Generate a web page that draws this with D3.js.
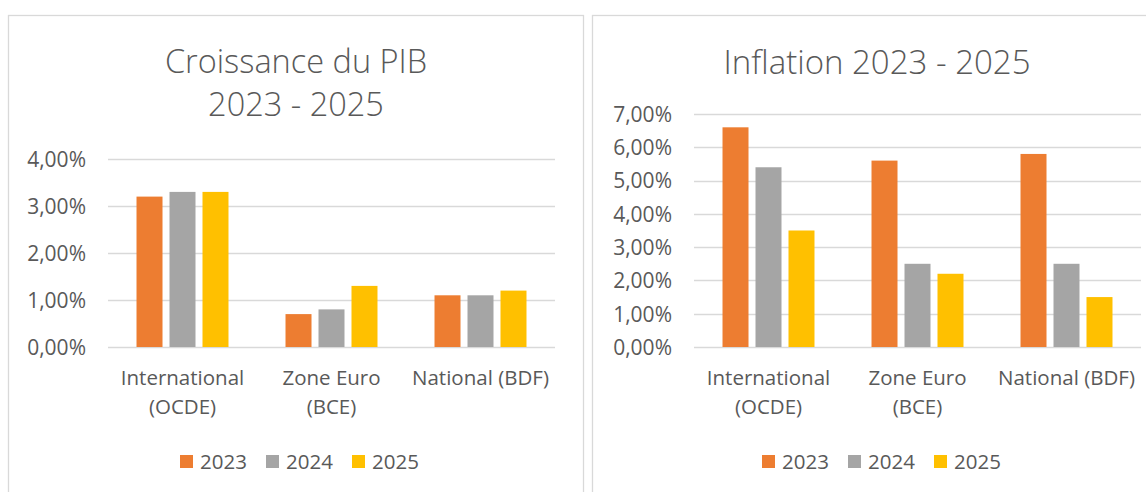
<!DOCTYPE html>
<html>
<head>
<meta charset="utf-8">
<script src="https://cdn.jsdelivr.net/npm/d3@7"></script>
<style>
  html, body { margin: 0; padding: 0; background: #fff; }
  svg { display: block; }
  text { font-family: "Open Sans", "Noto Sans", sans-serif; fill: #595959; }
</style>
</head>
<body>
<svg id="chart" width="1146" height="492"></svg>
<script>
// ---- data ----
const categories = ["International (OCDE)", "Zone Euro (BCE)", "National (BDF)"];
const categoryLines = [["International", "(OCDE)"], ["Zone Euro", "(BCE)"], ["National (BDF)"]];
const years = ["2023", "2024", "2025"];

const gdp2023 = [3.2, 0.7, 1.1];
const gdp2024 = [3.3, 0.8, 1.1];
const gdp2025 = [3.3, 1.3, 1.2];
const gdpTicks = [0, 1, 2, 3, 4];
const gdpTitle = ["Croissance du PIB", "2023 - 2025"];

const infl2023 = [6.6, 5.6, 5.8];
const infl2024 = [5.4, 2.5, 2.5];
const infl2025 = [3.5, 2.2, 1.5];
const inflTicks = [0, 1, 2, 3, 4, 5, 6, 7];
const inflTitle = ["Inflation 2023 - 2025"];

const colors = ["#ED7D31", "#A5A5A5", "#FFC000"];

// ---- drawing ----
const svg = d3.select("#chart");
const fmt = v => v.toFixed(2).replace(".", ",") + "%";

function drawChart(opts) {
  const g = svg.append("g");
  // frame
  g.append("rect")
    .attr("x", opts.frame[0] + 0.5).attr("y", 15.5)
    .attr("width", opts.frame[1] - opts.frame[0]).attr("height", 520)
    .attr("fill", "#fff").attr("stroke", "#D9D9D9").attr("stroke-width", 1.3);

  const x0 = d3.scaleBand().domain(categories).range([opts.left, opts.left + 447]).padding(0);
  const x1 = d3.scaleBand().domain(years).range([0, x0.bandwidth()])
    .paddingInner(0.212).paddingOuter(0.864);
  const y = d3.scaleLinear().domain([0, d3.max(opts.ticks)]).range([347, opts.top]);

  // gridlines
  g.append("g").selectAll("line").data(opts.ticks).join("line")
    .attr("x1", opts.left).attr("x2", opts.left + 447)
    .attr("y1", d => Math.round(y(d)) + 0.5).attr("y2", d => Math.round(y(d)) + 0.5)
    .attr("stroke", "#D9D9D9").attr("stroke-width", 1.3);

  // y axis labels (no domain line)
  const yAxis = d3.axisLeft(y).tickValues(opts.ticks).tickFormat(fmt).tickSize(0).tickPadding(0);
  const ya = g.append("g").attr("transform", `translate(${opts.left - 22},0)`).call(yAxis);
  ya.select(".domain").remove();
  ya.selectAll("text").attr("font-size", 21).style("font-family", '"Open Sans", sans-serif')
    .attr("fill", "#595959").attr("dy", "0.35em");

  // bars
  const series = opts.series;
  const grp = g.append("g").selectAll("g").data(categories).join("g")
    .attr("transform", c => `translate(${x0(c)},0)`);
  grp.selectAll("rect").data((c, i) => years.map((yr, k) => ({ yr, k, v: series[k][i] })))
    .join("rect")
    .attr("x", d => x1(d.yr)).attr("width", x1.bandwidth())
    .attr("y", d => y(d.v)).attr("height", d => y(0) - y(d.v))
    .attr("fill", d => colors[d.k]);

  // category labels
  const cl = g.append("g").selectAll("text").data(categories).join("text")
    .attr("text-anchor", "middle").attr("font-size", 20.5);
  cl.each(function (c, i) {
    const t = d3.select(this);
    categoryLines[i].forEach((ln, j) => {
      t.append("tspan").attr("x", x0(c) + x0.bandwidth() / 2)
        .attr("y", 378 + j * 29).attr("dy", "0.35em").text(ln);
    });
  });

  // title
  g.append("g").selectAll("text").data(opts.title).join("text")
    .attr("x", opts.titleX).attr("y", (d, i) => 62 + i * 43).attr("dy", "0.35em")
    .attr("text-anchor", "middle").attr("font-size", opts.titleSize).attr("font-weight", 350)
    .text(d => d);

  // legend
  const lg = g.append("g").selectAll("g").data(years).join("g")
    .attr("transform", (d, i) => `translate(${opts.legendLeft + i * 86},0)`);
  lg.append("rect").attr("x", 0).attr("y", 455).attr("width", 13).attr("height", 13)
    .attr("fill", (d, i) => colors[i]);
  lg.append("text").attr("x", 20).attr("y", 461.5).attr("dy", "0.35em")
    .attr("font-size", 20.5).text(d => d);
}

drawChart({
  frame: [8, 583], left: 108, top: 159, ticks: gdpTicks,
  series: [gdp2023, gdp2024, gdp2025], title: gdpTitle, titleX: 296, titleSize: 32.5, legendLeft: 180
});
drawChart({
  frame: [592, 1200], left: 694, top: 114, ticks: inflTicks,
  series: [infl2023, infl2024, infl2025], title: inflTitle, titleX: 877, titleSize: 33, legendLeft: 762
});
</script>
</body>
</html>
